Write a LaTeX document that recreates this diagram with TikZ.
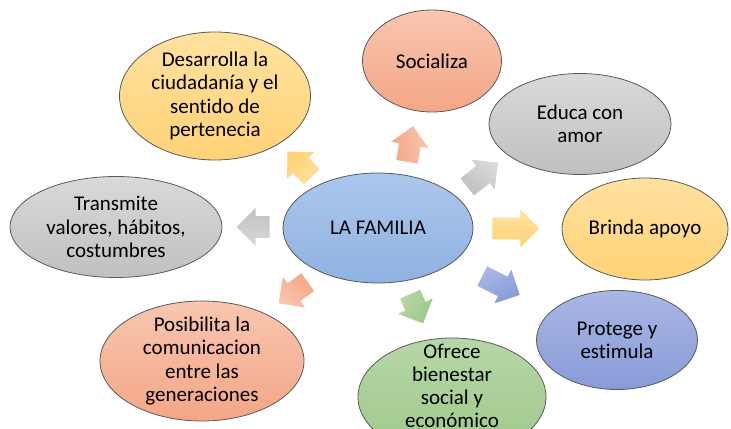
\documentclass[tikz,border=0pt]{standalone}
\usepackage{fontspec}
\setmainfont{Carlito}[Ligatures=CommonOff]
\usetikzlibrary{shapes.geometric,shapes.arrows}
\definecolor{bluetop}{RGB}{172,199,236}
\definecolor{bluebot}{RGB}{143,178,226}
\definecolor{saltop}{RGB}{248,198,176}
\definecolor{salbot}{RGB}{244,166,134}
\definecolor{graytop}{RGB}{217,217,217}
\definecolor{graybot}{RGB}{192,192,192}
\definecolor{yeltop}{RGB}{255,226,160}
\definecolor{yelbot}{RGB}{255,210,118}
\definecolor{lavtop}{RGB}{170,183,228}
\definecolor{lavbot}{RGB}{135,155,216}
\definecolor{grntop}{RGB}{182,215,168}
\definecolor{grnbot}{RGB}{158,200,136}
\tikzset{
  bubble/.style={ellipse, draw=black!65, line width=0.6pt, inner sep=0pt},
  bubsize/.style 2 args={minimum width=#1*0.75pt, minimum height=#2*0.75pt},
  bubtext/.style={align=center, font=\fontsize{15.75pt}{17.4pt}\selectfont},
  blockarrow/.style={single arrow, single arrow head extend=6pt,
    inner xsep=0pt, inner ysep=8pt, anchor=tail},
}

\begin{document}
\begin{tikzpicture}[x=0.75pt,y=-0.75pt]
\clip (0,0) rectangle (731,428);
% bubbles
\node[bubble, bubsize={190}{110}, top color=bluetop, bottom color=bluebot] (fam) at (378,228) {};
\node[bubble, bubsize={139}{102}, top color=saltop, bottom color=salbot] (soc) at (432,61) {};
\node[bubble, bubsize={182}{101}, top color=graytop, bottom color=graybot] (edu) at (580,124) {};
\node[bubble, bubsize={166}{102}, top color=yeltop, bottom color=yelbot] (bri) at (645,229) {};
\node[bubble, bubsize={161}{99}, top color=lavtop, bottom color=lavbot] (pro) at (617,340) {};
\node[bubble, bubsize={188}{118}, top color=grntop, bottom color=grnbot] (ofr) at (452,397) {};
\node[bubble, bubsize={204}{120}, top color=saltop, bottom color=salbot] (pos) at (202,361) {};
\node[bubble, bubsize={212}{101}, top color=graytop, bottom color=graybot] (tra) at (116,227) {};
\node[bubble, bubsize={191}{128}, top color=yeltop, bottom color=yelbot] (des) at (215,96) {};
% texts
\node[bubtext] (fam-t) at (fam) {LA FAMILIA};
\node[bubtext] (soc-t) at (soc) {Socializa};
\node[bubtext] (edu-t) at (edu) {Educa con\\amor};
\node[bubtext] (bri-t) at (bri) {Brinda apoyo};
\node[bubtext] (pro-t) at (pro) {Protege y\\estimula};
\node[bubtext] (ofr-t) at (452,386) {Ofrece\\bienestar\\social y\\económico};
\node[bubtext] (pos-t) at (pos) {Posibilita la\\comunicacion\\entre las\\generaciones};
\node[bubtext] (tra-t) at (tra) {Transmite\\valores, hábitos,\\costumbres};
\node[bubtext] (des-t) at (des) {Desarrolla la\\ciudadanía y el\\sentido de\\pertenecia};
% arrows
\foreach \n/\x/\y/\a/\s/\l/\c in {des/312/177/134/-134/35/yel, soc/407/162/80.5/-80.5/36/sal,
  edu/467/187/38/-38/39/gray, bri/492/228.5/0/0/47/yel, pro/482/276/-26.6/26.6/42/lav,
  ofr/410/294/-66/66/32/grn, pos/308/282/216/-216/36/sal, tra/270/227/180/-180/33/gray}
{
\node[blockarrow, top color=\c top, bottom color=\c bot, shading angle=\s,
  minimum height=\l*0.75pt, rotate=\a] (arr-\n) at (\x,\y) {};
}
\end{tikzpicture}
\end{document}
